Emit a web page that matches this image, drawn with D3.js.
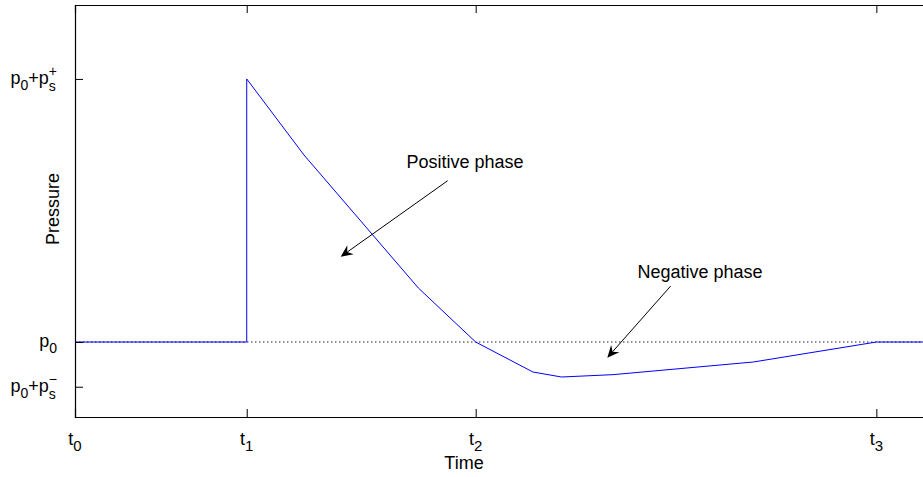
<!DOCTYPE html>
<html>
<head>
<meta charset="utf-8">
<script src="https://cdn.jsdelivr.net/npm/d3@7"></script>
<style>
  html, body { margin: 0; padding: 0; background: #fff; }
  svg { display: block; font-family: "Liberation Sans", Arial, Helvetica, sans-serif; }
</style>
</head>
<body>
<svg id="chart" width="923" height="477"></svg>
<script>
// Idealised blast pressure history (Friedlander-type pulse)
const pulseTime     = [0, 3, 3, 4, 6, 7, 8, 8.5, 9.4, 11.85, 14, 15];
const pulsePressure = [0, 0, 1, 0.711, 0.205, 0, -0.114, -0.133, -0.124, -0.076, 0, 0];

// Reference levels
const ambientTime     = [0, 15];
const ambientPressure = [0, 0];

// Axis ticks
const timeTicks      = [0, 3, 7, 14];
const timeTickNames  = ["0", "1", "2", "3"];
const pressureTicks  = [-0.17, 0, 1];
const pressureSigns  = ["−", null, "+"];

const svg = d3.select("#chart");
const plotLeft = 75, plotTop = 5, plotBottom = 417;
const x = d3.scaleLinear().domain([0, 15]).range([plotLeft, plotLeft + 15 * 57.24]);
const y = d3.scaleLinear().domain([-0.285, 1.281]).range([plotBottom, plotTop]);

// ambient (p0) dotted reference line
svg.append("path")
  .datum(ambientTime.map((t, i) => [t, ambientPressure[i]]))
  .attr("d", d3.line().x(d => x(d[0])).y(d => y(d[1])))
  .attr("fill", "none").attr("stroke", "#222").attr("stroke-width", 1)
  .attr("stroke-dasharray", "1.5,2.5");

// pressure pulse
svg.append("path")
  .datum(pulseTime.map((t, i) => [t, pulsePressure[i]]))
  .attr("d", d3.line().x(d => x(d[0])).y(d => y(d[1])))
  .attr("fill", "none").attr("stroke", "#0000ff").attr("stroke-width", 1);

// box with inward ticks
const axisColor = "#000";
const bottomAxis = d3.axisBottom(x).tickValues(timeTicks).tickSize(-8).tickFormat("");
const topAxis = d3.axisTop(x).tickValues(timeTicks).tickSize(-8).tickFormat("");
const leftAxis = d3.axisLeft(y).tickValues(pressureTicks).tickSize(-8).tickFormat("");

[[bottomAxis, `translate(0,${plotBottom})`], [topAxis, `translate(0,${plotTop})`], [leftAxis, `translate(${plotLeft},0)`]]
  .forEach(([ax, tr]) => {
    const g = svg.append("g").attr("transform", tr).call(ax);
    g.select(".domain").attr("stroke", axisColor).attr("stroke-width", 1.2);
    g.selectAll(".tick line").attr("stroke", axisColor).attr("stroke-width", 1);
  });

// x tick labels: t with subscript
const fs = 18, subFs = 14;
timeTicks.forEach((t, i) => {
  const txt = svg.append("text")
    .attr("x", x(t)).attr("y", 445)
    .attr("text-anchor", "middle")
    .attr("font-size", fs).attr("fill", "#000");
  txt.append("tspan").text("t");
  txt.append("tspan").attr("font-size", 15).attr("dy", 6).text(timeTickNames[i]);
});

// y tick labels: p0, p0+ps+, p0+ps-
pressureTicks.forEach((p, i) => {
  const txt = svg.append("text")
    .attr("x", 57).attr("y", y(p) + 5)
    .attr("text-anchor", "end")
    .attr("font-size", fs).attr("fill", "#000");
  txt.append("tspan").text("p");
  txt.append("tspan").attr("font-size", subFs).attr("dy", 6).text("0");
  const sign = pressureSigns[i];
  if (sign) {
    txt.append("tspan").attr("dy", -6).text("+p");
    const s = txt.append("tspan").attr("font-size", subFs).attr("dy", 7).text("s");
    const sw = s.node().getComputedTextLength();
    txt.append("tspan").attr("font-size", subFs).attr("dx", -sw).attr("dy", -15).text(sign);
  }
});

// axis titles
svg.append("text").attr("x", 464).attr("y", 469)
  .attr("text-anchor", "middle").attr("font-size", fs).text("Time");
svg.append("text")
  .attr("transform", `translate(59,209) rotate(-90)`)
  .attr("text-anchor", "middle").attr("font-size", fs).text("Pressure");

// annotations with arrows
const notes = [
  { label: "Positive phase", tx: 465, ty: 168, from: [447.7, 180.7], to: [340.7, 256.7] },
  { label: "Negative phase", tx: 700, ty: 278, from: [670.7, 286], to: [607.3, 357.7] }
];
notes.forEach(n => {
  svg.append("text").attr("x", n.tx).attr("y", n.ty)
    .attr("text-anchor", "middle").attr("font-size", fs).text(n.label);
  const [x0, y0] = n.from, [x1, y1] = n.to;
  const ang = Math.atan2(y1 - y0, x1 - x0);
  const len = 12, half = 5.5, notch = 8;
  const ux = Math.cos(ang), uy = Math.sin(ang);
  const px = -uy, py = ux;
  const bx = x1 - ux * len, by = y1 - uy * len;
  const nx = x1 - ux * notch, ny = y1 - uy * notch;
  svg.append("line").attr("x1", x0).attr("y1", y0).attr("x2", nx).attr("y2", ny)
    .attr("stroke", "#000").attr("stroke-width", 1);
  svg.append("path")
    .attr("d", `M${x1},${y1}L${bx + px * half},${by + py * half}L${nx},${ny}L${bx - px * half},${by - py * half}Z`)
    .attr("fill", "#000");
});
</script>
</body>
</html>
